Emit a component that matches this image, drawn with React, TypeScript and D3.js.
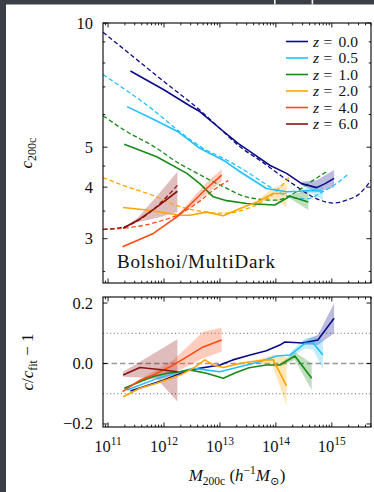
import React from 'react';
import * as d3 from 'd3';

type Pt = [number, number];
type Band = [number, number, number];

const redshiftLabels = ['0.0', '0.5', '1.0', '2.0', '4.0', '6.0'];
const seriesColors = ['#0b0b8a', '#22c0ff', '#178a17', '#ffa500', '#ff4a14', '#8b1212'];

// Measured c200c against log10 M200c, per redshift
const cZ0: Pt[] = [[11.40, 7.65], [11.99, 6.90], [12.46, 6.30], [12.64, 6.10], [13.00, 5.55], [13.33, 5.10], [13.54, 4.88], [13.89, 4.52], [14.19, 4.32], [14.46, 4.08], [14.73, 3.99], [14.88, 4.08], [15.04, 4.20]];
const cZ05: Pt[] = [[11.34, 6.27], [11.80, 5.85], [12.26, 5.44], [12.64, 4.97], [13.06, 4.65], [13.36, 4.36], [13.83, 3.97], [14.19, 3.90], [14.43, 3.91], [14.67, 3.93], [14.84, 3.91]];
const cZ1: Pt[] = [[11.29, 5.08], [11.87, 4.74], [12.41, 4.32], [12.64, 4.08], [12.88, 3.79], [13.12, 3.71], [13.48, 3.65], [13.98, 3.62], [14.25, 3.80], [14.58, 3.68]];
const cZ2: Pt[] = [[11.27, 3.57], [11.69, 3.52], [12.29, 3.42], [12.46, 3.42], [12.76, 3.48], [13.06, 3.41], [13.36, 3.55], [13.66, 3.68], [13.95, 3.86], [14.19, 3.86]];
const cZ4: Pt[] = [[11.26, 2.87], [11.81, 3.09], [12.23, 3.39], [12.46, 3.62], [12.76, 3.97], [13.03, 4.28]];
const cZ6: Pt[] = [[11.27, 3.18], [11.57, 3.35], [11.87, 3.58], [12.24, 3.91]];

// Fitted concentration-mass relations
const fitZ0: Pt[] = [[10.91, 9.50], [11.50, 8.18], [12.00, 7.21], [12.64, 6.15], [13.00, 5.55], [13.36, 5.01], [13.71, 4.65], [14.25, 4.12], [14.79, 3.72], [15.02, 3.66], [15.26, 3.72], [15.50, 3.86], [15.70, 4.16]];
const fitZ05: Pt[] = [[10.91, 7.50], [11.81, 6.15], [12.29, 5.44], [12.73, 4.94], [13.06, 4.70], [13.48, 4.36], [13.89, 4.01], [14.25, 3.79], [14.55, 3.75], [14.84, 3.90], [15.08, 4.08], [15.29, 4.30]];
const fitZ1: Pt[] = [[10.91, 5.96], [11.30, 5.49], [11.84, 5.00], [12.29, 4.55], [12.46, 4.42], [13.06, 4.01], [13.50, 3.78], [14.00, 3.72], [14.37, 3.90], [14.67, 4.16], [14.93, 4.38]];
const fitZ2: Pt[] = [[10.91, 4.22], [11.27, 4.04], [11.87, 3.79], [12.23, 3.61], [12.64, 3.50], [13.06, 3.46], [13.54, 3.57], [13.90, 3.80], [14.25, 4.24]];
const fitZ4: Pt[] = [[10.91, 3.16], [11.27, 3.18], [11.87, 3.29], [12.29, 3.45], [12.64, 3.70], [12.88, 3.93], [13.15, 4.15]];
const fitZ6: Pt[] = [[10.91, 3.16], [11.27, 3.20], [11.75, 3.48], [12.24, 4.04]];

// Scatter bands on c200c: [log10 M, low, high]
const bandZ0: Band[] = [[14.46, 4.04, 4.12], [14.73, 3.90, 4.16], [15.04, 3.99, 4.40]];
const bandZ05: Band[] = [[14.43, 3.88, 3.94], [14.67, 3.85, 4.02], [14.84, 3.72, 4.05]];
const bandZ1: Band[] = [[14.25, 3.76, 3.84], [14.58, 3.52, 3.92]];
const bandZ2: Band[] = [[13.66, 3.65, 3.71], [13.95, 3.76, 3.98], [14.19, 3.58, 4.08]];
const bandZ4: Band[] = [[12.23, 3.37, 3.41], [12.46, 3.55, 3.70], [12.76, 3.84, 4.10], [13.03, 4.14, 4.42]];
const bandZ6: Band[] = [[11.27, 3.17, 3.19], [11.52, 3.29, 3.36], [11.87, 3.37, 3.80], [12.24, 3.48, 4.36]];

// Residuals c / c_fit - 1
const ratioZ0: Pt[] = [[11.40, -0.091], [11.99, -0.055], [12.46, -0.021], [13.00, -0.005], [13.23, 0.012], [13.54, 0.028], [13.83, 0.042], [14.07, 0.061], [14.16, 0.071], [14.48, 0.068], [14.75, 0.078], [15.04, 0.150]];
const ratioZ05: Pt[] = [[11.34, -0.088], [11.87, -0.050], [12.29, -0.027], [12.52, -0.016], [13.00, -0.027], [13.30, -0.013], [13.71, 0.006], [14.01, 0.025], [14.25, 0.028], [14.52, 0.067], [14.67, 0.067], [14.84, 0.028]];
const ratioZ1: Pt[] = [[11.29, -0.082], [11.57, -0.060], [11.81, -0.043], [12.05, -0.032], [12.29, -0.027], [12.46, -0.021], [12.76, -0.032], [13.06, -0.049], [13.29, -0.030], [13.52, -0.014], [13.83, -0.005], [14.07, -0.005], [14.34, 0.025], [14.64, -0.049]];
const ratioZ2: Pt[] = [[11.27, -0.110], [11.57, -0.082], [11.87, -0.065], [12.29, -0.038], [12.52, -0.016], [12.73, 0.012], [12.88, -0.005], [13.06, -0.013], [13.30, -0.002], [13.54, 0.006], [13.83, 0.012], [13.95, 0.013], [14.19, -0.074]];
const ratioZ4: Pt[] = [[11.26, -0.093], [11.57, -0.055], [11.81, -0.038], [12.11, -0.011], [12.41, 0.022], [12.70, 0.055], [13.03, 0.078]];
const ratioZ6: Pt[] = [[11.27, -0.038], [11.57, -0.013], [11.87, -0.019], [12.24, -0.027]];

const ratioBandZ0: Band[] = [[14.48, 0.062, 0.074], [14.75, 0.061, 0.094], [15.04, 0.100, 0.199]];
const ratioBandZ05: Band[] = [[14.25, 0.020, 0.036], [14.52, 0.050, 0.083], [14.67, 0.045, 0.090], [14.84, -0.020, 0.078]];
const ratioBandZ1: Band[] = [[14.07, -0.010, 0.000], [14.34, 0.012, 0.038], [14.64, -0.088, 0.000]];
const ratioBandZ2: Band[] = [[13.66, 0.003, 0.012], [13.95, -0.011, 0.028], [14.19, -0.140, 0.022]];
const ratioBandZ4: Band[] = [[11.57, -0.060, -0.052], [12.17, -0.032, 0.012], [12.70, 0.017, 0.105], [13.03, 0.039, 0.118]];
const ratioBandZ6: Band[] = [[11.27, -0.044, -0.027], [11.57, -0.046, 0.006], [11.87, -0.050, 0.039], [12.24, -0.126, 0.080]];

const concentration = [cZ0, cZ05, cZ1, cZ2, cZ4, cZ6];
const fits = [fitZ0, fitZ05, fitZ1, fitZ2, fitZ4, fitZ6];
const bands = [bandZ0, bandZ05, bandZ1, bandZ2, bandZ4, bandZ6];
const ratios = [ratioZ0, ratioZ05, ratioZ1, ratioZ2, ratioZ4, ratioZ6];
const ratioBands = [ratioBandZ0, ratioBandZ05, ratioBandZ1, ratioBandZ2, ratioBandZ4, ratioBandZ6];

const xTickExponents = [11, 12, 13, 14, 15];
const cTickLabels = [3, 4, 5, 10];
const cMinorTicks = [2.5, 3.5, 4.5, 6, 7, 8, 9];
const ratioTicks = [-0.2, 0, 0.2];
const ratioGuides = [-0.1, 0.1];

const serif = '"Liberation Serif", "DejaVu Serif", serif';

export default function App() {
  const W = 374, H = 492;
  const left = 103, right = 371;
  const topY0 = 23, topY1 = 283, botY0 = 297, botY1 = 427;

  const x = d3.scaleLog().domain([10 ** 10.91, 10 ** 15.7]).range([left, right]);
  const yC = d3.scaleLog().domain([2.343, 10]).range([topY1, topY0]);
  const yR = d3.scaleLinear().domain([-0.21, 0.22]).range([botY1, botY0]);
  const mx = (lm: number) => x(10 ** lm);

  const lineC = d3.line<Pt>().x(d => mx(d[0])).y(d => yC(d[1]));
  const fitC = d3.line<Pt>().x(d => mx(d[0])).y(d => yC(d[1])).curve(d3.curveMonotoneX);
  const areaC = d3.area<Band>().x(d => mx(d[0])).y0(d => yC(d[1])).y1(d => yC(d[2]));
  const lineR = d3.line<Pt>().x(d => mx(d[0])).y(d => yR(d[1]));
  const areaR = d3.area<Band>().x(d => mx(d[0])).y0(d => yR(d[1])).y1(d => yR(d[2]));

  const [d0, d1] = x.domain();
  const majorX = xTickExponents.map(e => 10 ** e);
  const minorX: number[] = [];
  for (let e = 10; e <= 15; e++) {
    for (let m = 2; m <= 9; m++) {
      const v = m * 10 ** e;
      if (v >= d0 && v <= d1) minorX.push(v);
    }
  }

  const major = 4.5, minor = 2.3;
  const tickStroke = { stroke: '#000', strokeWidth: 0.9 };

  const xTickMarks = (ya: number, yb: number, key: string) => (
    <g key={key}>
      {majorX.map(v => (
        <g key={'M' + v}>
          <line x1={x(v)} x2={x(v)} y1={ya} y2={ya + major} {...tickStroke} />
          <line x1={x(v)} x2={x(v)} y1={yb} y2={yb - major} {...tickStroke} />
        </g>
      ))}
      {minorX.map(v => (
        <g key={'m' + v}>
          <line x1={x(v)} x2={x(v)} y1={ya} y2={ya + minor} {...tickStroke} />
          <line x1={x(v)} x2={x(v)} y1={yb} y2={yb - minor} {...tickStroke} />
        </g>
      ))}
    </g>
  );

  const yTickMark = (y: number, len: number, key: string) => (
    <g key={key}>
      <line x1={left} x2={left + len} y1={y} y2={y} {...tickStroke} />
      <line x1={right} x2={right - len} y1={y} y2={y} {...tickStroke} />
    </g>
  );

  return (
    <svg width={W} height={H} viewBox={`0 0 ${W} ${H}`}
      style={{ position: 'absolute', left: 0, top: 0, display: 'block' }}
      fontFamily={serif}>
      <defs>
        <clipPath id="clipTop"><rect x={left} y={topY0} width={right - left} height={topY1 - topY0} /></clipPath>
        <clipPath id="clipBot"><rect x={left} y={botY0} width={right - left} height={botY1 - botY0} /></clipPath>
      </defs>
      <rect x={0} y={0} width={W} height={H} fill="#3b3e45" />
      <rect x={6} y={4.5} width={W - 6} height={H - 4.5} fill="#ffffff" />
      <rect x={274} y={0} width={1.6} height={4.5} fill="#f4f4f4" />
      <rect x={311.6} y={0} width={1.6} height={4.5} fill="#f4f4f4" />

      {/* upper panel: concentration-mass relation */}
      <g clipPath="url(#clipTop)">
        {bands.map((b, i) => (
          <path key={'b' + i} d={areaC(b) || ''} fill={seriesColors[i]} fillOpacity={0.28} stroke="none" />
        ))}
        {fits.map((f, i) => (
          <path key={'f' + i} d={fitC(f) || ''} fill="none" stroke={seriesColors[i]} strokeWidth={1.3} strokeDasharray="4.5 2.6" />
        ))}
        {concentration.map((c, i) => (
          <path key={'c' + i} d={lineC(c) || ''} fill="none" stroke={seriesColors[i]} strokeWidth={1.6} strokeLinejoin="round" />
        ))}
      </g>

      {xTickMarks(topY0, topY1, 'xt-top')}
      {cTickLabels.map(v => yTickMark(yC(v), major, 'cM' + v))}
      {cMinorTicks.map(v => yTickMark(yC(v), minor, 'cm' + v))}
      <rect x={left} y={topY0} width={right - left} height={topY1 - topY0} fill="none" stroke="#000" strokeWidth={1.1} />

      {cTickLabels.map(v => (
        <text key={'cl' + v} x={93} y={yC(v) + 5.5} textAnchor="end" fontSize={16.5} fill="#111">{v}</text>
      ))}

      <text x={117} y={268} fontSize={19} textLength={158} lengthAdjust="spacing" fill="#111">Bolshoi/MultiDark</text>

      {/* legend */}
      {redshiftLabels.map((z, i) => {
        const ry = 41.5 + i * 16.5;
        return (
          <g key={'lg' + z}>
            <line x1={286} x2={308} y1={ry} y2={ry} stroke={seriesColors[i]} strokeWidth={1.6} />
            <text x={313} y={ry + 5} fontSize={15.5} fontStyle="italic" fill="#111">z</text>
            <text x={323.5} y={ry + 5} fontSize={15.5} fill="#111">=</text>
            <text x={338.5} y={ry + 5} fontSize={15.5} fill="#111">{z}</text>
          </g>
        );
      })}

      <text transform={`translate(32,153) rotate(-90)`} textAnchor="middle" fontSize={17} fill="#111">
        <tspan fontStyle="italic">c</tspan>
        <tspan fontSize={12} dy={3.5}>200c</tspan>
      </text>

      {/* lower panel: residuals about the fit */}
      {ratioGuides.map(v => (
        <line key={'g' + v} x1={left} x2={right} y1={yR(v)} y2={yR(v)} stroke="#666" strokeWidth={1} strokeDasharray="1 2.6" />
      ))}
      <line x1={left} x2={right} y1={yR(0)} y2={yR(0)} stroke="#999" strokeWidth={1.5} strokeDasharray="5.5 3" />

      <g clipPath="url(#clipBot)">
        {ratioBands.map((b, i) => (
          <path key={'rb' + i} d={areaR(b) || ''} fill={seriesColors[i]} fillOpacity={0.28} stroke="none" />
        ))}
        {ratios.map((r, i) => (
          <path key={'r' + i} d={lineR(r) || ''} fill="none" stroke={seriesColors[i]} strokeWidth={1.6} strokeLinejoin="round" />
        ))}
      </g>

      {xTickMarks(botY0, botY1, 'xt-bot')}
      {ratioTicks.map(v => yTickMark(yR(v), major, 'rM' + v))}
      <rect x={left} y={botY0} width={right - left} height={botY1 - botY0} fill="none" stroke="#000" strokeWidth={1.1} />

      {ratioTicks.map(v => (
        <text key={'rl' + v} x={93} y={yR(v) + 5.5} textAnchor="end" fontSize={16.5} fill="#111">
          {v < 0 ? '\u2212' + Math.abs(v).toFixed(1) : v.toFixed(1)}
        </text>
      ))}

      {xTickExponents.map(e => (
        <text key={'xl' + e} x={x(10 ** e)} y={452} textAnchor="middle" fontSize={16.5} fill="#111">
          <tspan>10</tspan>
          <tspan fontSize={11.5} dy={-7}>{e}</tspan>
        </text>
      ))}

      <text transform={`translate(33,362) rotate(-90)`} textAnchor="middle" fontSize={17} fill="#111">
        <tspan fontStyle="italic">c</tspan>
        <tspan>/</tspan>
        <tspan fontStyle="italic">c</tspan>
        <tspan fontSize={12} dy={3.5}>fit</tspan>
        <tspan dy={-3.5}>{' \u2212 1'}</tspan>
      </text>

      <text x={237} y={481} textAnchor="middle" fontSize={17} fill="#111">
        <tspan fontStyle="italic">M</tspan>
        <tspan fontSize={11.5} dy={3.5}>200c</tspan>
        <tspan dy={-3.5}>{' ('}</tspan>
        <tspan fontStyle="italic">h</tspan>
        <tspan fontSize={11.5} dy={-7}>{'\u22121'}</tspan>
        <tspan fontStyle="italic" dy={7}>M</tspan>
        <tspan fontSize={11.5} dy={3.5}>{'\u2299'}</tspan>
        <tspan dy={-3.5}>)</tspan>
      </text>
    </svg>
  );
}
